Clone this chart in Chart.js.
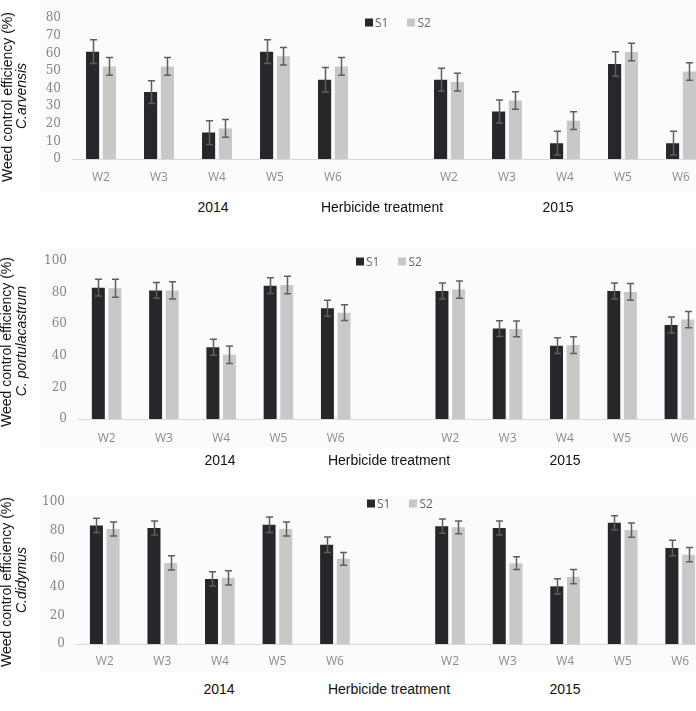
<!DOCTYPE html>
<html>
<head>
<meta charset="utf-8">
<script src="https://cdn.jsdelivr.net/npm/chart.js@4.4.0/dist/chart.umd.min.js"></script>
<style>
  html, body { margin: 0; padding: 0; background: #fff; }
  body { width: 696px; height: 711px; overflow: hidden; position: relative; font-family: "Liberation Sans", Arial, sans-serif; }
  .bg { position: absolute; background: #fbfbfb; }
  canvas { position: absolute; left: 0; }
  .lbl { position: absolute; transform: translate(-50%, -50%); font-size: 14px; color: #111; white-space: nowrap; }
  .ytitle { position: absolute; transform: translate(-50%, -50%) rotate(-90deg); font-size: 14px; color: #111; white-space: nowrap; }
  .ytitle.it { font-style: italic; }
  .legend { position: absolute; font-family: "Open Sans", sans-serif; font-size: 12px; color: #666; white-space: nowrap; transform: translateY(-50%); }
  .legend span.sw { display: inline-block; width: 8px; height: 8px; margin-right: 2px; vertical-align: 0px; }
</style>
</head>
<body>
<div class="bg" style="left:40px;top:0;width:656px;height:192px"></div>
<div class="bg" style="left:40px;top:247px;width:656px;height:201px"></div>
<div class="bg" style="left:40px;top:495px;width:656px;height:177px"></div>

<canvas id="c1" width="720" height="195" style="top:0"></canvas>
<canvas id="c2" width="720" height="225" style="top:230px"></canvas>
<canvas id="c3" width="720" height="210" style="top:470px"></canvas>

<div class="ytitle" style="left:7px;top:97px">Weed control efficiency (%)</div>
<div class="ytitle it" style="left:21px;top:96px">C.arvensis</div>
<div class="ytitle" style="left:6px;top:342px">Weed control efficiency (%)</div>
<div class="ytitle it" style="left:21px;top:341px">C. portulacastrum</div>
<div class="ytitle" style="left:6px;top:582px">Weed control efficiency (%)</div>
<div class="ytitle it" style="left:21px;top:580px">C.didymus</div>

<div class="legend" style="left:365px;top:22px"><span class="sw" style="background:#26272b"></span>S1<span style="display:inline-block;width:19px"></span><span class="sw" style="background:#c8c8c8"></span>S2</div>
<div class="legend" style="left:356px;top:261px"><span class="sw" style="background:#26272b"></span>S1<span style="display:inline-block;width:19px"></span><span class="sw" style="background:#c8c8c8"></span>S2</div>
<div class="legend" style="left:367px;top:503px"><span class="sw" style="background:#26272b"></span>S1<span style="display:inline-block;width:19px"></span><span class="sw" style="background:#c8c8c8"></span>S2</div>

<div class="lbl" style="left:213px;top:207px">2014</div>
<div class="lbl" style="left:382px;top:207px">Herbicide treatment</div>
<div class="lbl" style="left:558px;top:207px">2015</div>
<div class="lbl" style="left:220px;top:460px">2014</div>
<div class="lbl" style="left:389px;top:460px">Herbicide treatment</div>
<div class="lbl" style="left:565px;top:460px">2015</div>
<div class="lbl" style="left:219px;top:689px">2014</div>
<div class="lbl" style="left:389px;top:689px">Herbicide treatment</div>
<div class="lbl" style="left:565px;top:689px">2015</div>

<script>
// treatments, 2014 then 2015 with an empty slot between
const categories = ['W2', 'W3', 'W4', 'W5', 'W6', '', 'W2', 'W3', 'W4', 'W5', 'W6'];

// C. arvensis
const arvS1 = [61, 38, 15, 61, 45, null, 45, 27, 9, 54, 9];
const arvS1Err = [6.7, 6.5, 6.7, 6.8, 7, null, 6.5, 6.5, 6.7, 7, 6.7];
const arvS2 = [52.6, 52.6, 17.4, 58.4, 52.6, null, 43.7, 33.2, 21.8, 60.8, 49.7];
const arvS2Err = [5, 5, 5, 5, 5, null, 5, 5, 5, 5, 5];

// C. portulacastrum
const porS1 = [83.1, 81.4, 45.4, 84.4, 70.1, null, 81, 57.2, 46.4, 81, 59.5];
const porS1Err = [5.3, 5, 5, 5, 5, null, 5, 5, 5, 5, 5];
const porS2 = [82.7, 81.4, 40.7, 84.8, 67.3, null, 81.9, 57, 46.8, 80.4, 62.9];
const porS2Err = [5.7, 5.5, 5.5, 5.5, 5, null, 5.5, 5, 5.3, 5.3, 5.2];

// C. didymus
const didS1 = [83.5, 81.7, 45.8, 84, 69.9, null, 83, 81.7, 40.6, 85.4, 67.6];
const didS1Err = [5, 5, 5, 5.5, 5.5, null, 5, 5, 5.4, 5, 5.4];
const didS2 = [81, 57.1, 46.6, 81, 60, null, 82.2, 56.9, 47.4, 80.2, 62.9];
const didS2Err = [5, 5, 5, 5, 4.5, null, 4.5, 4.5, 5, 5, 5];

const S1_COLOR = '#26272b';
const S2_COLOR = '#c8c8c8';

// draws the +/- error whiskers on top of each bar
const errorBars = {
  id: 'errorBars',
  afterDatasetsDraw(chart) {
    const ctx = chart.ctx;
    const yScale = chart.scales.y;
    ctx.save();
    ctx.strokeStyle = '#5e5e5e';
    ctx.lineWidth = 1.5;
    chart.data.datasets.forEach((ds, di) => {
      const meta = chart.getDatasetMeta(di);
      meta.data.forEach((bar, i) => {
        const v = ds.data[i];
        const e = ds.errors[i];
        if (v == null || e == null) return;
        const x = Math.round(bar.x) + 0.5;
        const yt = yScale.getPixelForValue(v + e);
        const yb = yScale.getPixelForValue(v - e);
        ctx.beginPath();
        ctx.moveTo(x, yt); ctx.lineTo(x, yb);
        ctx.moveTo(x - 3.5, yt); ctx.lineTo(x + 3.5, yt);
        ctx.moveTo(x - 3.5, yb); ctx.lineTo(x + 3.5, yb);
        ctx.stroke();
      });
    });
    ctx.restore();
  }
};

function makePanel(id, s1, s1Err, s2, s2Err, opts) {
  const ctx = document.getElementById(id).getContext('2d');
  return new Chart(ctx, {
    type: 'bar',
    data: {
      labels: categories,
      datasets: [{
        label: 'S1',
        data: s1,
        errors: s1Err,
        backgroundColor: S1_COLOR,
        categoryPercentage: 0.58,
        barPercentage: 0.78
      }, {
        label: 'S2',
        data: s2,
        errors: s2Err,
        backgroundColor: S2_COLOR,
        categoryPercentage: 0.58,
        barPercentage: 0.78
      }]
    },
    options: {
      responsive: false,
      devicePixelRatio: 1,
      animation: false,
      layout: {
        padding: { left: 0, top: opts.top, right: 720 - opts.right, bottom: 0 }
      },
      plugins: {
        legend: { display: false },
        tooltip: { enabled: false }
      },
      scales: {
        x: {
          grid: { display: false, drawTicks: false },
          border: { display: true, color: '#d9d9d9', width: 1 },
          ticks: {
            color: '#8c8c8c',
            font: { family: 'Open Sans', size: 12 },
            padding: opts.xPad,
            maxRotation: 0,
            autoSkip: false
          },
          afterFit(scale) { scale.height = opts.xHeight; }
        },
        y: {
          min: 0,
          max: opts.max,
          grid: { display: false, drawTicks: false },
          border: { display: false },
          ticks: {
            stepSize: opts.step,
            color: '#858585',
            font: { family: 'DejaVu Serif', size: 12 },
            padding: 11
          },
          afterFit(scale) { scale.width = opts.left; }
        }
      }
    },
    plugins: [errorBars]
  });
}

makePanel('c1', arvS1, arvS1Err, arvS2, arvS2Err,
  { top: 12, left: 72, right: 710, max: 80, step: 10, xPad: 11, xHeight: 36 });
makePanel('c2', porS1, porS1Err, porS2, porS2Err,
  { top: 31, left: 78, right: 708, max: 100, step: 20, xPad: 12, xHeight: 36 });
makePanel('c3', didS1, didS1Err, didS2, didS2Err,
  { top: 32, left: 76, right: 709, max: 100, step: 20, xPad: 10, xHeight: 36 });
</script>
</body>
</html>
